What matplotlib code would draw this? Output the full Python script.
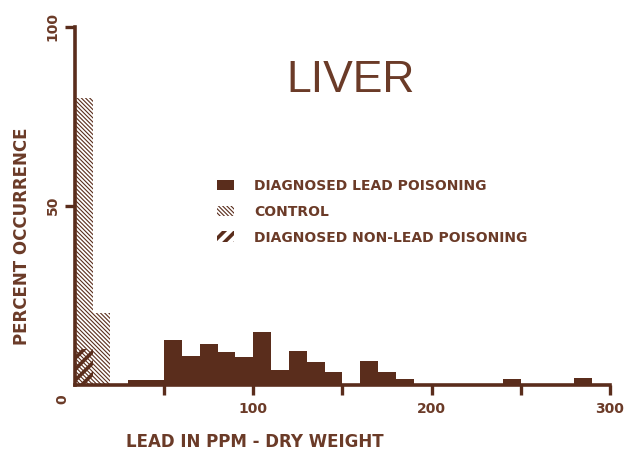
import numpy as np
import matplotlib
matplotlib.use('Agg')
import matplotlib.pyplot as plt
from matplotlib.patches import Patch

# 颜色
brown = '#5a2d1c'
text_brown = '#6b3b28'

# 数据：每 10 ppm 一个区间，百分比
bin_left = np.arange(0, 300, 10)
lead = [0, 0, 0, 1.5, 1.5, 12.5, 8.2, 11.4, 9.2, 7.9,
        14.9, 4.2, 9.6, 6.5, 3.7, 0, 6.7, 3.5, 1.6, 0,
        0, 0, 0, 0, 1.6, 0, 0, 0, 2.0, 0]
control = [80, 20] + [0] * 28
non_lead = [10] + [0] * 29

labels = ['DIAGNOSED LEAD POISONING', 'CONTROL', 'DIAGNOSED NON-LEAD POISONING']
x_ticks = [50, 100, 150, 200, 250, 300]
x_ticklabels = ['', '100', '', '200', '', '300']
y_ticks = [50, 100]
y_ticklabels = ['50', '100']

ctrl_hatch = '\\' * 8
non_hatch = '///'
thin_lw, thick_lw = 0.8, 2.6

plt.rcParams['font.family'] = ['DejaVu Sans']
plt.rcParams['hatch.color'] = brown


def set_hlw(p, lw):
    if hasattr(p, 'set_hatch_linewidth'):
        p.set_hatch_linewidth(lw)


fig = plt.figure(figsize=(6.26, 4.57), dpi=100)
ax = fig.add_axes([0.1195, 0.1575, 0.855, 0.7845])

# 对照组（细斜线）
plt.rcParams['hatch.linewidth'] = thin_lw
b_ctrl = ax.bar(bin_left, control, width=10, align='edge', facecolor='none',
                edgecolor=brown, linewidth=0, hatch=ctrl_hatch)
for p in b_ctrl:
    set_hlw(p, thin_lw)

# 非铅中毒（粗斜线）
plt.rcParams['hatch.linewidth'] = thick_lw
b_non = ax.bar(bin_left, non_lead, width=10, align='edge', facecolor='none',
               edgecolor=brown, linewidth=0, hatch=non_hatch)
for p in b_non:
    set_hlw(p, thick_lw)
plt.rcParams['hatch.linewidth'] = thin_lw

# 铅中毒（实心）
ax.bar(bin_left, lead, width=10, align='edge', color=brown, linewidth=0)

ax.set_xlim(0, 300)
ax.set_ylim(0, 100)
for s in ['top', 'right']:
    ax.spines[s].set_visible(False)
for s in ['left', 'bottom']:
    ax.spines[s].set_linewidth(2.6)
    ax.spines[s].set_color(brown)
    ax.spines[s].set_capstyle('projecting')

ax.set_xticks(x_ticks)
ax.set_xticklabels(x_ticklabels, fontsize=10, fontweight='bold', color=text_brown)
ax.set_yticks(y_ticks)
ax.set_yticklabels(y_ticklabels, fontsize=10, fontweight='bold', color=text_brown,
                   rotation=90, va='center')
ax.tick_params(axis='both', direction='out', length=7, width=2.4, color=brown, pad=5)
ax.tick_params(axis='y', pad=4)
ax.text(-7, -4, '0', rotation=90, ha='center', va='center', fontsize=10,
        fontweight='bold', color=text_brown, clip_on=False)

ax.set_xlabel('LEAD IN PPM - DRY WEIGHT', fontsize=12, fontweight='bold',
              color=text_brown, va='center')
ax.xaxis.set_label_coords(0.337, -0.159)
ax.set_ylabel('PERCENT OCCURRENCE', fontsize=12, fontweight='bold',
              color=text_brown, va='center')
ax.yaxis.set_label_coords(-0.0987, 0.4156)

fig.text(351 / 626, 1 - 80 / 457, 'LIVER', fontsize=32, family='Liberation Sans',
         color=text_brown, ha='center', va='center')

h_lead = Patch(facecolor=brown, edgecolor=brown, linewidth=0)
h_ctrl = Patch(facecolor='none', edgecolor=brown, linewidth=0, hatch=ctrl_hatch)
h_non = Patch(facecolor='none', edgecolor=brown, linewidth=0, hatch=non_hatch)
leg = ax.legend([h_lead, h_ctrl, h_non], labels, loc='upper left',
                bbox_to_anchor=(217 / 626, 1 - 179 / 457),
                bbox_transform=fig.transFigure, frameon=False,
                prop={'size': 10, 'weight': 'bold'},
                handlelength=1.2, handleheight=0.8, handletextpad=1.5,
                labelspacing=0.85, borderpad=0, borderaxespad=0)
for t in leg.get_texts():
    t.set_color(text_brown)
lh = leg.legend_handles
set_hlw(lh[1], thin_lw)
set_hlw(lh[2], thick_lw)

fig.savefig('out.png', dpi=100)
